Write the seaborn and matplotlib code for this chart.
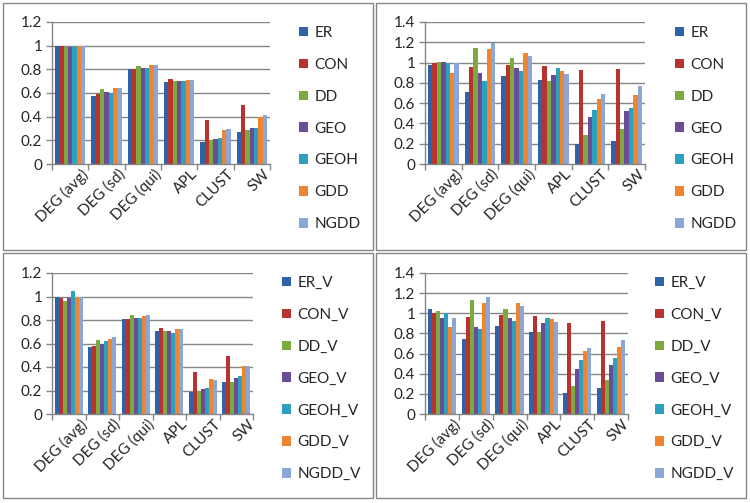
import matplotlib
matplotlib.use("Agg")
import matplotlib.pyplot as plt
import matplotlib.transforms as mtrans
import seaborn as sns
import pandas as pd
from matplotlib.patches import Rectangle

categories = ["DEG (avg)", "DEG (sd)", "DEG (qui)", "APL", "CLUST", "SW"]
models = ["ER", "CON", "DD", "GEO", "GEOH", "GDD", "NGDD"]
models_v = ["ER_V", "CON_V", "DD_V", "GEO_V", "GEOH_V", "GDD_V", "NGDD_V"]

# values per model, in category order
tl_vals = {
    "ER":   [1.00, 0.575, 0.80, 0.695, 0.19, 0.27],
    "CON":  [1.00, 0.59, 0.80, 0.72, 0.37, 0.50],
    "DD":   [0.99, 0.635, 0.83, 0.70, 0.20, 0.285],
    "GEO":  [0.99, 0.605, 0.815, 0.70, 0.215, 0.305],
    "GEOH": [0.99, 0.60, 0.815, 0.70, 0.22, 0.305],
    "GDD":  [1.00, 0.645, 0.835, 0.71, 0.29, 0.40],
    "NGDD": [1.00, 0.645, 0.835, 0.71, 0.295, 0.41],
}
tr_vals = {
    "ER":   [0.98, 0.71, 0.87, 0.825, 0.20, 0.23],
    "CON":  [1.00, 0.955, 0.98, 0.97, 0.925, 0.94],
    "DD":   [1.01, 1.14, 1.045, 0.82, 0.29, 0.35],
    "GEO":  [1.01, 0.90, 0.95, 0.88, 0.465, 0.52],
    "GEOH": [1.00, 0.815, 0.915, 0.95, 0.53, 0.55],
    "GDD":  [0.90, 1.135, 1.09, 0.92, 0.64, 0.68],
    "NGDD": [1.00, 1.19, 1.06, 0.89, 0.69, 0.765],
}
bl_vals = {
    "ER_V":   [1.00, 0.57, 0.805, 0.705, 0.19, 0.27],
    "CON_V":  [0.985, 0.58, 0.81, 0.735, 0.36, 0.49],
    "DD_V":   [0.965, 0.63, 0.84, 0.71, 0.20, 0.27],
    "GEO_V":  [0.985, 0.60, 0.82, 0.71, 0.21, 0.305],
    "GEOH_V": [1.045, 0.625, 0.82, 0.69, 0.22, 0.325],
    "GDD_V":  [1.00, 0.64, 0.835, 0.72, 0.295, 0.41],
    "NGDD_V": [1.00, 0.655, 0.84, 0.72, 0.29, 0.405],
}
br_vals = {
    "ER_V":   [1.04, 0.74, 0.87, 0.81, 0.21, 0.26],
    "CON_V":  [1.00, 0.96, 0.985, 0.975, 0.905, 0.92],
    "DD_V":   [1.02, 1.13, 1.045, 0.815, 0.28, 0.34],
    "GEO_V":  [0.95, 0.86, 0.955, 0.905, 0.45, 0.49],
    "GEOH_V": [1.00, 0.84, 0.92, 0.95, 0.535, 0.555],
    "GDD_V":  [0.865, 1.10, 1.10, 0.94, 0.625, 0.665],
    "NGDD_V": [0.955, 1.16, 1.07, 0.91, 0.66, 0.73],
}

colors = ["#2F63A8", "#B83230", "#7DAA3E", "#6A4D96", "#2BA1C2", "#EF8531", "#8AA7D6"]

sns.set_theme(style="white")
plt.rcParams["font.family"] = ["Lato", "DejaVu Sans"]

W, H = 750, 503
fig = plt.figure(figsize=(W / 100, H / 100), dpi=100)
fig.patch.set_facecolor("white")

grey = "#868686"
fs = 11


def to_df(vals, names):
    rows = []
    for m in names:
        for c, v in zip(categories, vals[m]):
            rows.append({"cat": c, "model": m, "value": v})
    return pd.DataFrame(rows)


def panel(box, vals, names, ymax, leg_x, leg_y):
    x0, x1, ytop, ybot = box
    ax = fig.add_axes([x0 / W, 1 - ybot / H, (x1 - x0) / W, (ybot - ytop) / H])
    df = to_df(vals, names)
    sns.barplot(data=df, x="cat", y="value", hue="model", order=categories,
                hue_order=names, palette=colors, width=0.84, ax=ax,
                legend=False, saturation=1, linewidth=0, errorbar=None)
    ax.set_ylim(0, ymax)
    ax.set_xlim(-0.5, len(categories) - 0.5)
    ticks = [round(0.2 * i, 1) for i in range(int(round(ymax / 0.2)) + 1)]
    ax.set_yticks(ticks)
    ax.set_yticklabels([("%g" % t) for t in ticks], fontsize=fs)
    for t in ticks[1:]:
        ax.axhline(t, color=grey, lw=1, zorder=0)
    ax.set_xticks(range(len(categories)))
    ax.set_xticklabels(categories, rotation=45, ha="right",
                       rotation_mode="anchor", fontsize=fs)
    ax.set_xticks([i - 0.5 for i in range(len(categories) + 1)], minor=True)
    ax.tick_params(axis="x", which="major", length=0, pad=2)
    ax.tick_params(axis="x", which="minor", length=4, color=grey, width=1,
                   direction="out", bottom=True)
    ax.tick_params(axis="y", length=4, color=grey, width=1, direction="out",
                   left=True, pad=3)
    ax.set_xlabel("")
    ax.set_ylabel("")
    for s in ["top", "right"]:
        ax.spines[s].set_visible(False)
    for s in ["left", "bottom"]:
        ax.spines[s].set_color(grey)
        ax.spines[s].set_linewidth(1)
    ax.set_facecolor("white")
    ax.set_axisbelow(True)
    # shift x labels right so they end near the category centre
    off = mtrans.ScaledTranslation(11 / 100, 0, fig.dpi_scale_trans)
    for lbl in ax.get_xticklabels():
        lbl.set_transform(lbl.get_transform() + off)
    handles = [Rectangle((0, 0), 1, 1, facecolor=c, edgecolor="none") for c in colors]
    fig.legend(handles, names, loc="upper left",
               bbox_to_anchor=(leg_x / W, 1 - leg_y / H), frameon=False,
               fontsize=fs, handlelength=0.6, handleheight=0.6,
               handletextpad=0.4, labelspacing=1.17, borderpad=0,
               borderaxespad=0)
    return ax


panel((52, 270, 22, 164), tl_vals, models, 1.2, 299, 26)
panel((425, 645, 22, 164), tr_vals, models, 1.4, 675, 26)
panel((52, 253, 273, 414), bl_vals, models_v, 1.2, 282, 276)
panel((425, 628, 273, 414), br_vals, models_v, 1.4, 655, 276)

for (x0, y0, x1, y1) in [(3, 3, 373, 250), (376, 3, 746, 250),
                         (3, 253, 373, 498), (376, 253, 746, 498)]:
    fig.patches.append(Rectangle((x0 / W, 1 - y1 / H), (x1 - x0) / W, (y1 - y0) / H,
                                 transform=fig.transFigure, fill=False,
                                 edgecolor=grey, linewidth=1))

fig.savefig("out.png", dpi=100, facecolor="white")
